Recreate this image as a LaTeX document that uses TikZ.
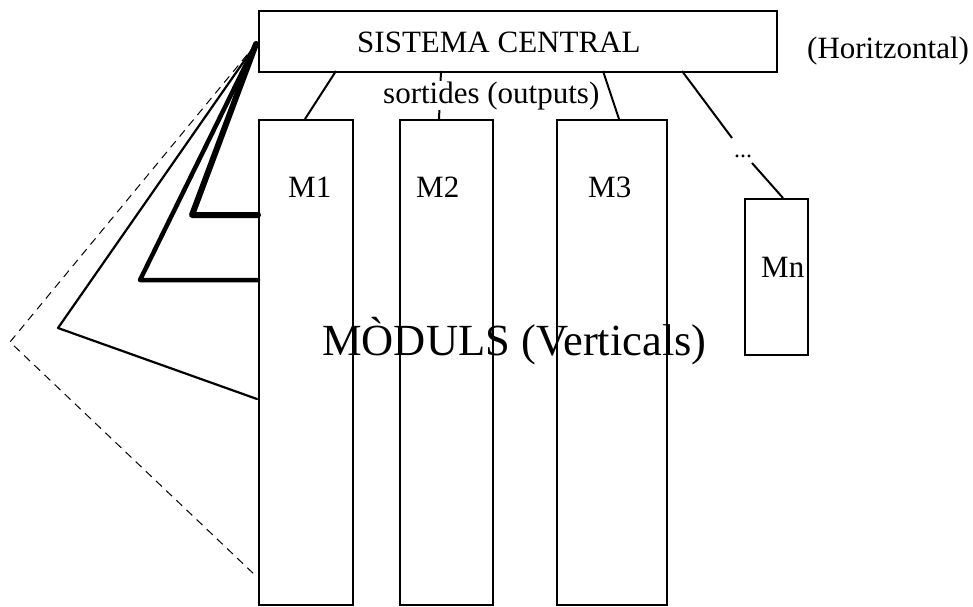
\documentclass[tikz,border=0pt]{standalone}
\usepackage{fontspec}
\setmainfont{Liberation Serif}
\begin{document}
\begin{tikzpicture}[x=1pt,y=-1pt,
  box/.style={draw,line width=2pt,rectangle,inner sep=0pt,anchor=north west},
  lbl/.style={inner sep=0pt,anchor=base west,font=\fontsize{31}{31}\selectfont},
  link/.style={line width=2pt},
  feed/.style={line cap=round,line join=round}]
\useasboundingbox (0,0) rectangle (973,606);

% title of the module row, drawn first so the box edges cross it
\node[inner sep=0pt,anchor=base west,font=\fontsize{44.5}{44.5}\selectfont] (title) at (322,355) {MÒDULS (Verticals)};

% central system and modules
\node[box,minimum width=518pt,minimum height=61pt] (central) at (258,10) {};
\node[box,minimum width=94pt,minimum height=485pt] (m1) at (258,119) {};
\node[box,minimum width=93pt,minimum height=485pt] (m2) at (399,119) {};
\node[box,minimum width=110pt,minimum height=485pt] (m3) at (556,119) {};
\node[box,minimum width=63pt,minimum height=156pt] (mn) at (744,198) {};

\node[lbl] (tcentral) at (357,52) {SISTEMA CENTRAL};
\node[lbl] (thor) at (807,58) {(Horitzontal)};
\node[lbl] (t1) at (288,197) {M1};
\node[lbl] (t2) at (416,197) {M2};
\node[lbl] (t3) at (588,197) {M3};
\node[lbl] (tn) at (761,277) {Mn};

% output links from the central system
\coordinate (o1) at (336,71);  \coordinate (i1) at (305,119);
\coordinate (o2) at (441,71);  \coordinate (i2) at (439,119);
\coordinate (o3) at (603,71);  \coordinate (i3) at (619,119);
\coordinate (o4) at (682,71);  \coordinate (i4) at (783,198);
\coordinate (g1) at (732,138); \coordinate (g2) at (752,163);
\draw[link] (o1) -- (i1);
\draw[link] (o2) -- (i2);
\draw[link] (o3) -- (i3);
\draw[link] (o4) -- (g1);
\draw[link] (g2) -- (i4);
\node[lbl,fill=white] (tout) at (383,103) {sortides (outputs)};
\node[inner sep=0pt,anchor=base,font=\fontsize{24}{24}\selectfont] (dots) at (743,157) {...};

% feedback paths from the modules back to the central system
\coordinate (src) at (256,44);
\coordinate (k1) at (192,215); \coordinate (e1) at (258,215);
\coordinate (k2) at (140,280); \coordinate (e2) at (258,280);
\coordinate (k3) at (58,328);  \coordinate (e3) at (257,399);
\coordinate (k4) at (10,342);  \coordinate (e4) at (256,576);
\draw[feed,line width=1pt,dash pattern=on 8pt off 6pt,line cap=butt] (src) -- (k4) -- (e4);
\draw[feed,line width=2.2pt] (src) -- (k3) -- (e3);
\draw[feed,line width=4.5pt] (src) -- (k2) -- (e2);
\draw[feed,line width=6pt] (src) -- (k1) -- (e1);
\end{tikzpicture}
\end{document}
